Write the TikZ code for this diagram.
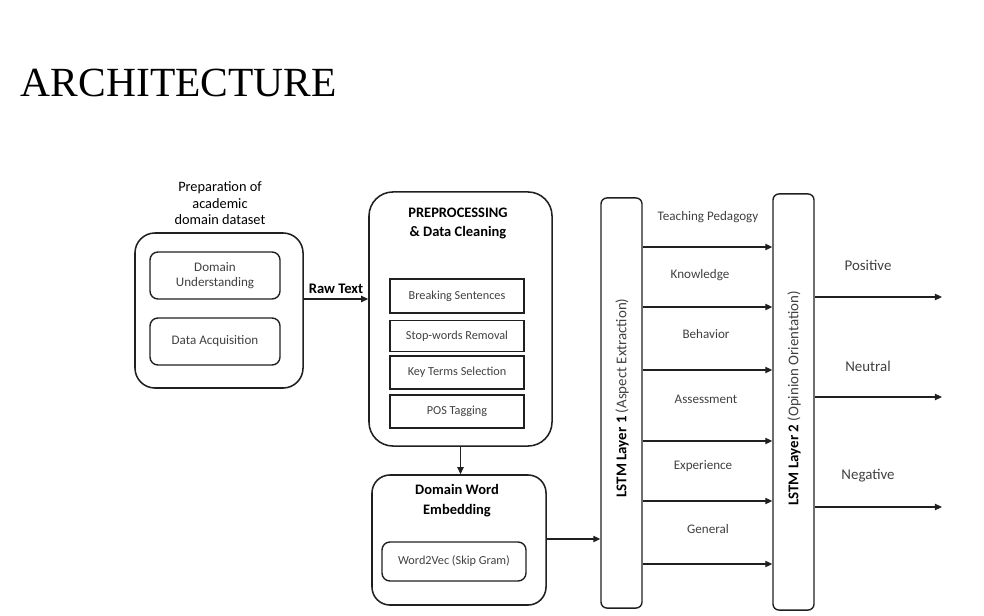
\documentclass[tikz,border=0pt]{standalone}
\usepackage{fontspec}
\setmainfont{Carlito}
\newfontfamily\titlefont{Liberation Serif}
\usetikzlibrary{arrows.meta}
\definecolor{txtgray}{HTML}{404040}
\definecolor{linegray}{HTML}{202020}
\begin{document}
\begin{tikzpicture}[x=0.025cm,y=-0.025cm,
    every node/.style={font=\fontsize{9.3}{11}\selectfont},
    bigbox/.style={draw=linegray,line width=1.1pt,rounded corners=0.5cm},
    subbox/.style={draw=linegray,line width=1pt,rounded corners=0.2cm,text=txtgray,align=center},
    stepbox/.style={draw=linegray,line width=1pt,text=txtgray,minimum width=3.35cm,minimum height=0.8cm,
                    font=\fontsize{8.7}{10}\selectfont},
    lstmbox/.style={draw=linegray,line width=1pt,rounded corners=0.15cm,minimum width=1.025cm},
    lstmlbl/.style={rotate=90,font=\fontsize{10.6}{12}\selectfont},
    headlbl/.style={align=center,font=\bfseries\fontsize{10.3}{14}\selectfont},
    tag/.style={text=txtgray},
    arr/.style={draw=linegray,line width=0.8pt,-{Triangle[length=5pt,width=4.5pt]}}]

  \useasboundingbox (0,0) rectangle (984,616);

  \node[anchor=west,font=\titlefont\fontsize{29.5}{32}\selectfont] (title) at (16,83) {ARCHITECTURE};

  % data preparation
  \node[bigbox,minimum width=4.2cm,minimum height=3.875cm] (prep) at (219,310.5) {};
  \node[align=center,font=\fontsize{10.2}{11.8}\selectfont] (preplbl) at (220,203.5) {Preparation of\\academic\\domain dataset};
  \node[subbox,minimum width=3.25cm,minimum height=1.175cm] (dom) at (215,275.5) {Domain\\Understanding};
  \node[subbox,minimum width=3.25cm,minimum height=1.175cm] (acq) at (215,341.5) {Data Acquisition};

  % preprocessing
  \node[bigbox,rounded corners=0.6cm,minimum width=4.575cm,minimum height=6.35cm] (pre) at (460.5,319) {};
  \node[headlbl] (prelbl) at (458,223.5) {PREPROCESSING\\\& Data Cleaning};
  \node[stepbox,minimum height=0.85cm] (brk) at (457,296) {Breaking Sentences};
  \node[stepbox,minimum height=0.775cm] (stop) at (457,336) {Stop-words Removal};
  \node[stepbox,minimum height=0.825cm] (key) at (457,372.5) {Key Terms Selection};
  \node[stepbox,minimum height=0.825cm] (pos) at (457,411.5) {POS Tagging};

  % embedding
  \node[bigbox,rounded corners=0.45cm,minimum width=4.35cm,minimum height=3.25cm] (emb) at (459,540) {};
  \node[headlbl] (emblbl) at (457,500.5) {Domain Word\\Embedding};
  \node[subbox,minimum width=3.6cm,minimum height=0.975cm,font=\fontsize{8.7}{10}\selectfont] (w2v) at (454,561.5) {Word2Vec (Skip Gram)};

  % lstm layers
  \node[lstmbox,minimum height=10.25cm] (l1) at (621.5,403) {};
  \node[lstmlbl] (l1lbl) at (622,398) {\textbf{LSTM Layer 1} {\color{txtgray}(Aspect Extraction)}};
  \node[lstmbox,minimum height=10.4cm] (l2) at (793.5,402) {};
  \node[lstmlbl] (l2lbl) at (794,398.5) {\textbf{LSTM Layer 2} {\color{txtgray}(Opinion Orientation)}};

  \draw[arr] (prep.east |- 0,299) -- node[above,font=\bfseries\fontsize{10.4}{12}\selectfont] (raw) {Raw Text} (pre.west |- 0,299);
  \draw[arr] (pre.south) -- (pre.south |- emb.north);
  \draw[arr] (emb.east |- 0,539) -- (l1.west |- 0,539);

  % aspects
  \foreach \y/\ly/\lx/\name in {247/217/708/Teaching Pedagogy,307/275/700/Knowledge,370/334/706/Behavior,
                                441/399/706/Assessment,501/466/703/Experience,564/529/708/General} {
    \node[tag] (asp-\y) at (\lx,\ly) {\name};
    \draw[arr] (l1.east |- 0,\y) -- (l2.west |- 0,\y);
  }

  % polarity
  \foreach \y/\ly/\name in {297/265/Positive,397/366/Neutral,507/476/Negative} {
    \node[tag,font=\fontsize{10.6}{12}\selectfont] (pol-\y) at (868,\ly) {\name};
    \coordinate (end-\y) at (942,\y);
    \draw[arr] (l2.east |- end-\y) -- (end-\y);
  }

\end{tikzpicture}
\end{document}
